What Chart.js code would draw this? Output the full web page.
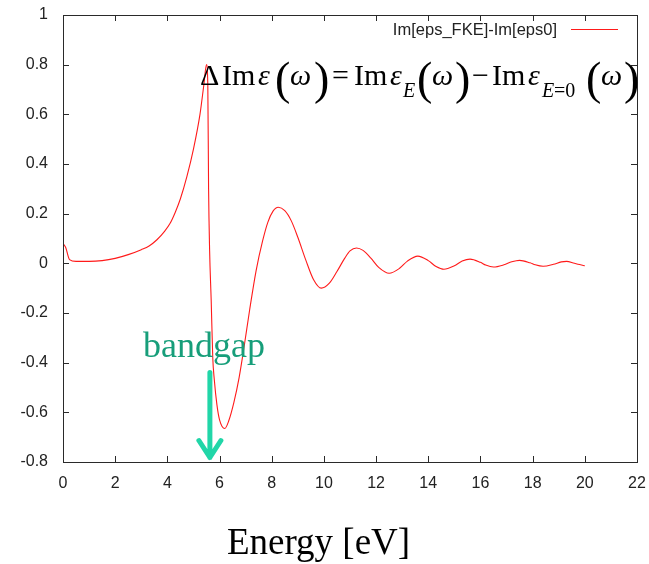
<!DOCTYPE html>
<html>
<head>
<meta charset="utf-8">
<script src="https://cdn.jsdelivr.net/npm/chart.js@4/dist/chart.umd.min.js"></script>
<style>
  html, body { margin: 0; padding: 0; background: #ffffff; }
  #wrap { width: 649px; height: 564px; position: relative; }
</style>
</head>
<body>
<div id="wrap"><canvas id="c" width="649" height="564"></canvas></div>
<script>
// ---- data ----
const energy = [0, 0.1, 0.25, 0.5, 1.0, 1.5, 2.0, 2.5, 3.0, 3.3, 3.6, 3.9, 4.1, 4.3, 4.5, 4.75, 5.0, 5.25, 5.4, 5.5, 5.55, 5.58, 5.62, 5.68, 5.74, 5.8, 5.9, 6.0, 6.2, 6.35, 6.55, 6.75, 6.95, 7.15, 7.4, 7.65, 7.85, 8.05, 8.25, 8.5, 8.75, 9.0, 9.3, 9.6, 9.9, 10.2, 10.5, 10.8, 11.0, 11.25, 11.5, 11.8, 12.1, 12.5, 12.9, 13.2, 13.6, 14.0, 14.3, 14.6, 15.0, 15.3, 15.6, 16.0, 16.2, 16.5, 16.9, 17.2, 17.5, 17.9, 18.1, 18.4, 18.8, 19.1, 19.3, 19.6, 19.8, 20.0];
const deltaIm = [0.08, 0.065, 0.015, 0.008, 0.008, 0.011, 0.02, 0.035, 0.055, 0.07, 0.095, 0.13, 0.16, 0.205, 0.26, 0.35, 0.46, 0.6, 0.72, 0.80, 0.72, 0.3, 0.05, -0.15, -0.38, -0.47, -0.57, -0.63, -0.665, -0.635, -0.56, -0.46, -0.33, -0.19, -0.03, 0.09, 0.165, 0.21, 0.226, 0.212, 0.171, 0.105, 0.015, -0.065, -0.1, -0.081, -0.033, 0.021, 0.05, 0.062, 0.052, 0.021, -0.016, -0.04, -0.02, 0.009, 0.029, 0.011, -0.013, -0.024, -0.01, 0.009, 0.017, 0.004, -0.007, -0.015, -0.006, 0.006, 0.012, 0.002, -0.006, -0.012, -0.004, 0.006, 0.008, 0.0, -0.005, -0.01];
const seriesLabel = "Im[eps_FKE]-Im[eps0]";
const xTickValues = [0, 2, 4, 6, 8, 10, 12, 14, 16, 18, 20, 22];
const yTickValues = [-0.8, -0.6, -0.4, -0.2, 0, 0.2, 0.4, 0.6, 0.8, 1];
const xTitle = "Energy [eV]";
const bandgapLabel = "bandgap";
const bandgapEnergy = 5.63;

const points = energy.map((e, i) => ({ x: e, y: deltaIm[i] }));

// frame with inward ticks (gnuplot style)
const framePlugin = {
  id: 'frame',
  afterDatasetsDraw(chart) {
    const { ctx, chartArea: a, scales: { x, y } } = chart;
    ctx.save();
    ctx.strokeStyle = '#2a2a2a';
    ctx.lineWidth = 1;
    ctx.strokeRect(Math.round(a.left) + 0.5, Math.round(a.top) + 0.5,
                   Math.round(a.right - a.left), Math.round(a.bottom - a.top));
    const L = 6;
    ctx.beginPath();
    xTickValues.forEach(v => {
      const px = Math.round(x.getPixelForValue(v)) + 0.5;
      ctx.moveTo(px, a.bottom); ctx.lineTo(px, a.bottom - L);
      ctx.moveTo(px, a.top); ctx.lineTo(px, a.top + L);
    });
    yTickValues.forEach(v => {
      const py = Math.round(y.getPixelForValue(v)) + 0.5;
      ctx.moveTo(a.left, py); ctx.lineTo(a.left + L, py);
      ctx.moveTo(a.right, py); ctx.lineTo(a.right - L, py);
    });
    ctx.stroke();
    ctx.restore();
  }
};

// legend inside the plot (text left of line sample) + annotations
const annotPlugin = {
  id: 'annot',
  afterDraw(chart) {
    const { ctx, scales: { x, y } } = chart;
    ctx.save();
    // legend
    const ds = chart.data.datasets[0];
    ctx.font = '16.5px "Liberation Sans", Arial, sans-serif';
    ctx.fillStyle = '#222';
    ctx.textAlign = 'right';
    ctx.textBaseline = 'middle';
    ctx.fillText(ds.label, 557, 30);
    ctx.strokeStyle = ds.borderColor;
    ctx.lineWidth = 1;
    ctx.beginPath(); ctx.moveTo(571, 29.5); ctx.lineTo(618, 29.5); ctx.stroke();

    // formula
    ctx.fillStyle = '#000';
    ctx.textAlign = 'left';
    ctx.textBaseline = 'alphabetic';
    const R = '30px "Liberation Serif", "Times New Roman", serif';
    const I = 'italic 30px "Liberation Serif", "Times New Roman", serif';
    const P = '46px "Liberation Serif", "Times New Roman", serif';
    const SI = 'italic 20px "Liberation Serif", "Times New Roman", serif';
    const SR = '20px "Liberation Serif", "Times New Roman", serif';
    const base = 85, pb = 94, sb = 97;
    const toks = [
      [200, 'Δ', R, base], [222, 'Im', R, base], [258, 'ε', I, base],
      [275, '(', P, pb], [290, 'ω', I, base], [314, ')', P, pb],
      [332, '=', R, base],
      [354, 'Im', R, base], [390, 'ε', I, base], [403, 'E', SI, sb],
      [417, '(', P, pb], [432, 'ω', I, base], [455, ')', P, pb],
      [472, '−', R, base],
      [492, 'Im', R, base], [528, 'ε', I, base], [542, 'E', SI, sb], [554, '=0', SR, sb],
      [586, '(', P, pb], [601, 'ω', I, base], [624, ')', P, pb]
    ];
    toks.forEach(([tx, s, f, b]) => { ctx.font = f; ctx.fillText(s, tx, b); });

    // bandgap label + arrow
    const ax = x.getPixelForValue(bandgapEnergy);
    const yTop = y.getPixelForValue(-0.44);
    const yTip = y.getPixelForValue(-0.79);
    ctx.font = '36px "Liberation Serif", "Times New Roman", serif';
    ctx.fillStyle = '#179e7a';
    ctx.fillText(bandgapLabel, 143, 357);
    ctx.strokeStyle = '#21d6a8';
    ctx.lineWidth = 5;
    ctx.lineCap = 'round';
    ctx.lineJoin = 'round';
    ctx.beginPath();
    ctx.moveTo(ax, yTop); ctx.lineTo(ax, yTip - 2);
    ctx.moveTo(ax - 11, yTip - 19); ctx.lineTo(ax, yTip - 2); ctx.lineTo(ax + 11, yTip - 19);
    ctx.stroke();
    ctx.restore();
  }
};

new Chart(document.getElementById('c'), {
  type: 'line',
  data: {
    datasets: [{
      label: seriesLabel,
      data: points,
      borderColor: '#ff1a1a',
      borderWidth: 1.1,
      pointRadius: 0,
      fill: false,
      cubicInterpolationMode: 'monotone'
    }]
  },
  options: {
    responsive: false,
    animation: false,
    layout: { padding: { left: 0, right: 12, top: 15, bottom: 0 } },
    plugins: {
      legend: { display: false },
      tooltip: { enabled: false },
      title: {
        display: true,
        text: xTitle,
        position: 'bottom',
        color: '#000',
        font: { family: '"Liberation Serif", "Times New Roman", serif', size: 37, weight: 'normal', lineHeight: 1 },
        padding: { top: 0, bottom: 1 }
      }
    },
    scales: {
      x: {
        type: 'linear',
        min: 0, max: 22,
        afterBuildTicks(s) { s.ticks = xTickValues.map(v => ({ value: v })); },
        afterFit(s) { s.height = 64; s.paddingLeft = 0; s.paddingRight = 0; },
        grid: { display: false, drawTicks: false },
        border: { display: false },
        ticks: {
          padding: 12,
          color: '#222',
          font: { family: '"Liberation Sans", Arial, sans-serif', size: 16 },
          callback: v => String(v),
          maxRotation: 0, autoSkip: false
        }
      },
      y: {
        type: 'linear',
        min: -0.8, max: 1,
        afterBuildTicks(s) { s.ticks = yTickValues.map(v => ({ value: v })); },
        afterFit(s) { s.width = 63; s.paddingTop = 0; s.paddingBottom = 0; },
        grid: { display: false, drawTicks: false },
        border: { display: false },
        ticks: {
          padding: 15,
          color: '#222',
          font: { family: '"Liberation Sans", Arial, sans-serif', size: 16 },
          callback: v => String(Math.round(v * 10) / 10),
          autoSkip: false
        }
      }
    }
  },
  plugins: [framePlugin, annotPlugin]
});
</script>
</body>
</html>
